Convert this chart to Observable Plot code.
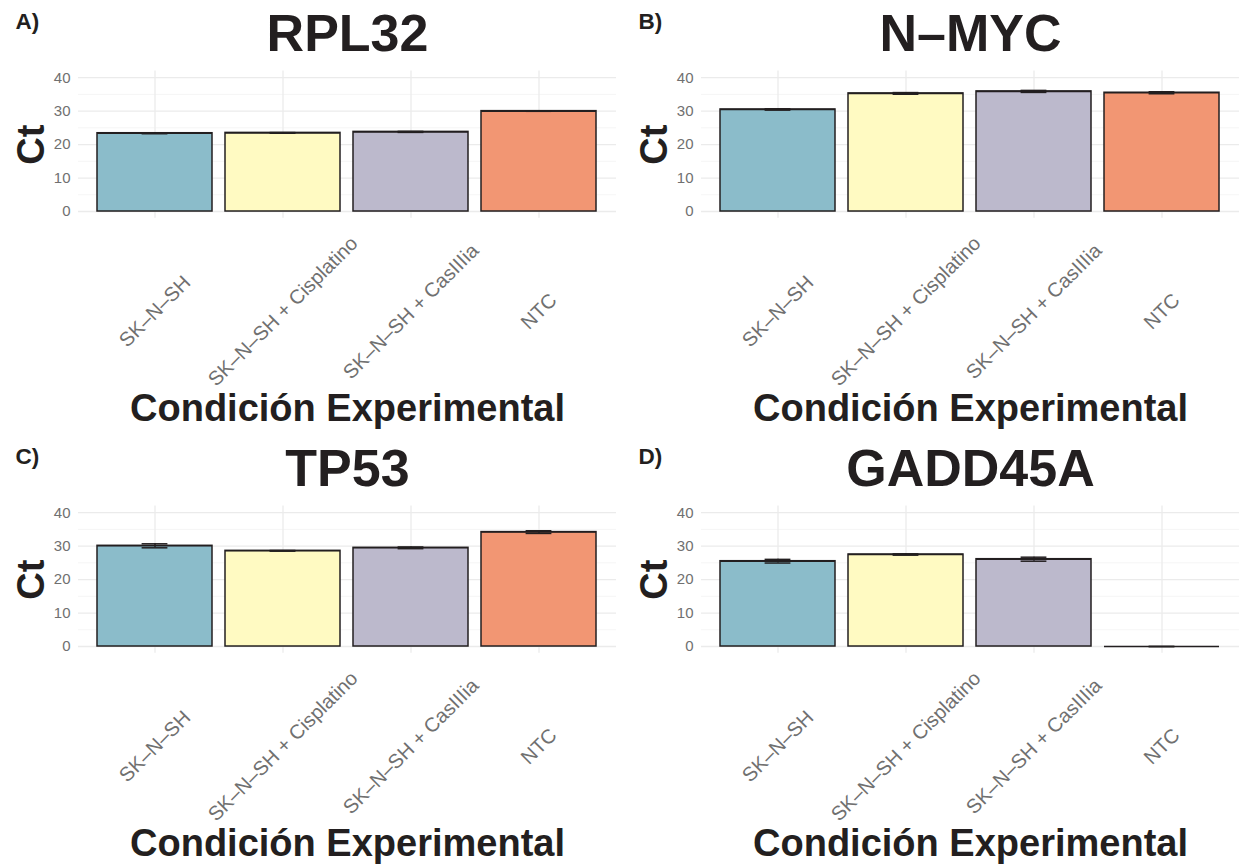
<!DOCTYPE html>
<html><head><meta charset="utf-8">
<script src="https://cdn.jsdelivr.net/npm/d3@7"></script>
<script src="https://cdn.jsdelivr.net/npm/@observablehq/plot@0.6"></script>
<style>
html,body{margin:0;padding:0;background:#fff;}
#root{position:relative;width:1243px;height:865px;overflow:hidden;font-family:"Liberation Sans",Arial,Helvetica,sans-serif;}
.panel{position:absolute;}
</style></head><body><div id="root"></div>
<script>
// ---- data ----
const categories = ["SK–N–SH", "SK–N–SH + Cisplatino", "SK–N–SH + CasIIIia", "NTC"];
const barColors = ["#8bbcca", "#fffac2", "#bcb9cc", "#f29673"];
const genes = ["RPL32", "N–MYC", "TP53", "GADD45A"];
const panelLetters = ["A)", "B)", "C)", "D)"];
const rpl32Mean = [23.4, 23.5, 23.8, 30.0];
const rpl32Err  = [0.15, 0.1, 0.15, 0.05];
const nmycMean  = [30.5, 35.3, 35.9, 35.5];
const nmycErr   = [0.2, 0.25, 0.3, 0.3];
const tp53Mean  = [30.1, 28.6, 29.5, 34.2];
const tp53Err   = [0.6, 0.1, 0.25, 0.4];
const gaddMean  = [25.5, 27.5, 26.1, 0];
const gaddErr   = [0.55, 0.2, 0.6, 0];
const yTicks = [0, 10, 20, 30, 40];
const yMinorTicks = [5, 15, 25, 35];
const xTitle = "Condición Experimental";
const yTitle = "Ct";

const meansList = [rpl32Mean, nmycMean, tp53Mean, gaddMean];
const errsList = [rpl32Err, nmycErr, tp53Err, gaddErr];
const positions = [[0, 0], [623, 0], [0, 435], [623, 435]];

const ink = "#231f20";
const tickGray = "#707070";
const FONT = "'Liberation Sans', Arial, Helvetica, sans-serif";

function panel(title, letter, means, errs) {
  const data = categories.map((c, i) => ({cond: c, mean: means[i], lo: means[i] - errs[i], hi: means[i] + errs[i]}));
  return Plot.plot({
    width: 620, height: 432,
    marginTop: 70.5, marginLeft: 78, marginRight: 4, marginBottom: 214.3,
    style: {fontFamily: FONT, background: "transparent", overflow: "visible"},
    x: {domain: categories, paddingInner: 0.1, paddingOuter: 0.15, label: null, axis: null},
    y: {domain: [-2, 42], label: null, axis: null},
    color: {domain: categories, range: barColors},
    marks: [
      Plot.gridY(yMinorTicks, {stroke: "#f2f2f2", strokeOpacity: 1, strokeWidth: 0.8}),
      Plot.gridY(yTicks, {stroke: "#ebebeb", strokeOpacity: 1, strokeWidth: 1.3}),
      Plot.gridX(categories, {stroke: "#ebebeb", strokeOpacity: 1, strokeWidth: 1.3}),
      Plot.barY(data, {x: "cond", y: "mean", fill: "cond", stroke: ink, strokeWidth: 1.5}),
      Plot.tickY(data, {x: "cond", y: "mean", stroke: ink, strokeWidth: 1.5}),
      Plot.ruleX(data, {x: "cond", y1: "lo", y2: "hi", stroke: ink, strokeWidth: 1.5}),
      Plot.tickY(data, {x: "cond", y: "lo", insetLeft: 44.6, insetRight: 44.6, stroke: ink, strokeWidth: 1.5}),
      Plot.tickY(data, {x: "cond", y: "hi", insetLeft: 44.6, insetRight: 44.6, stroke: ink, strokeWidth: 1.5}),
      Plot.axisY({ticks: yTicks, tickSize: 0, tickPadding: 8, fontSize: 15, color: tickGray, label: null}),
      Plot.axisX({tickSize: 0, tickPadding: 0, tickRotate: -45, textAnchor: "middle", lineAnchor: "middle", dy: 93.3, fontSize: 20, color: tickGray, label: null}),
      Plot.text([title], {frameAnchor: "top", lineAnchor: "top", dy: -56.5, fontSize: 52, fontWeight: "bold", fill: ink}),
      Plot.text([letter], {frameAnchor: "top-left", textAnchor: "start", lineAnchor: "top", dx: -63, dy: -58, fontSize: 22.5, fontWeight: "bold", fill: ink}),
      Plot.text([yTitle], {frameAnchor: "left", rotate: -90, textAnchor: "middle", lineAnchor: "top", dx: -61, fontSize: 38, fontWeight: "bold", fill: ink}),
      Plot.text([xTitle], {frameAnchor: "bottom", lineAnchor: "top", dy: 175.8, fontSize: 38, fontWeight: "bold", fill: ink})
    ]
  });
}

const root = document.getElementById("root");
genes.forEach((g, i) => {
  const div = document.createElement("div");
  div.className = "panel";
  div.style.left = positions[i][0] + "px";
  div.style.top = positions[i][1] + "px";
  div.appendChild(panel(g, panelLetters[i], meansList[i], errsList[i]));
  root.appendChild(div);
});
</script>
</body></html>
